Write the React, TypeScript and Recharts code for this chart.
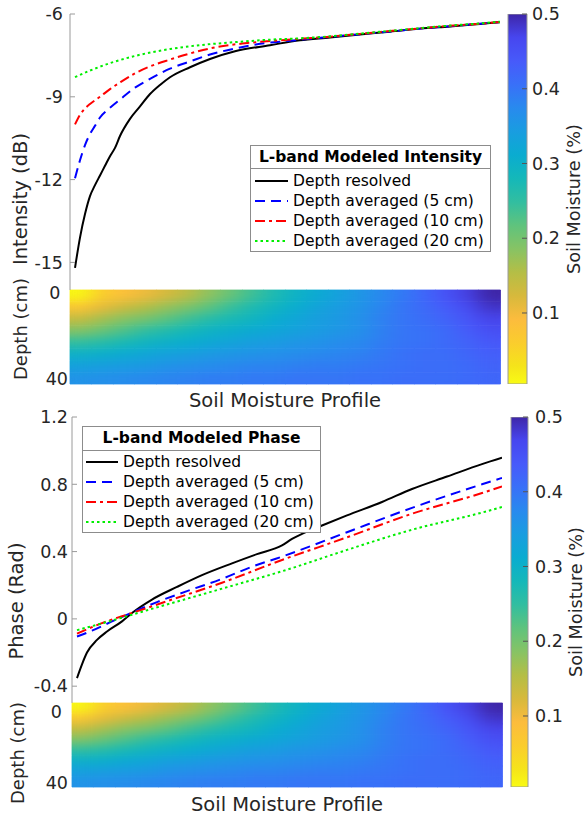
import React from 'react';
import { LineChart, Line, XAxis, YAxis, BarChart, Bar, Cell, Legend } from 'recharts';

const FONT = '"DejaVu Sans", Verdana, sans-serif';
const TEXT = '#262626';
const BOX = '#9a9a9a';

// ---------- data ----------
const seriesNames = ['Depth resolved', 'Depth averaged (5 cm)', 'Depth averaged (10 cm)', 'Depth averaged (20 cm)'];
const profileMax = 86;

// L-band intensity (dB) vs soil-moisture-profile index
const intResolvedIdx = [1, 2, 3, 4, 5, 6, 7, 8, 9, 10, 12, 14, 16, 18, 20, 24, 28, 33, 40, 46, 52, 58, 64, 70, 76, 82, 86];
const intResolvedDb = [-15.2, -14.1, -13.25, -12.6, -12.2, -11.85, -11.5, -11.15, -10.85, -10.42, -9.8, -9.35, -8.9, -8.57, -8.29, -7.93, -7.63, -7.35, -7.13, -6.95, -6.85, -6.74, -6.64, -6.53, -6.45, -6.36, -6.3];
const int5Idx = [1, 2, 3, 4, 5, 6, 8, 10, 13, 16, 20, 24, 28, 33, 38, 44, 52, 58, 64, 70, 76, 82, 86];
const int5Db = [-11.95, -11.3, -10.75, -10.35, -10.05, -9.75, -9.4, -9.1, -8.67, -8.35, -7.98, -7.72, -7.47, -7.25, -7.08, -6.97, -6.83, -6.73, -6.63, -6.53, -6.44, -6.35, -6.29];
const int10Idx = [1, 2, 3, 4, 6, 8, 10, 13, 16, 20, 24, 29, 35, 42, 52, 58, 64, 70, 76, 82, 86];
const int10Db = [-10.0, -9.65, -9.42, -9.26, -9.0, -8.72, -8.48, -8.15, -7.9, -7.65, -7.43, -7.21, -7.06, -6.95, -6.82, -6.72, -6.62, -6.52, -6.43, -6.35, -6.29];
const int20Idx = [1, 4, 8, 13, 20, 27, 33, 40, 46, 52, 58, 64, 70, 76, 82, 86];
const int20Db = [-8.29, -8.05, -7.78, -7.52, -7.27, -7.11, -7.02, -6.93, -6.88, -6.81, -6.71, -6.61, -6.51, -6.42, -6.34, -6.28];

// L-band phase (rad)
const phResolvedIdx = [1, 2, 3, 5, 7, 10, 12, 16, 21, 26, 32, 37, 42, 44, 46, 50, 55, 62, 68, 75, 82, 86];
const phResolvedRad = [-0.352, -0.27, -0.2, -0.125, -0.075, -0.015, 0.035, 0.115, 0.19, 0.26, 0.33, 0.385, 0.437, 0.475, 0.505, 0.555, 0.615, 0.695, 0.772, 0.846, 0.92, 0.958];
const ph5Idx = [1, 4, 8, 12, 17, 23, 30, 36, 42, 55, 68, 82, 86];
const ph5Rad = [-0.105, -0.07, -0.015, 0.038, 0.1, 0.165, 0.238, 0.31, 0.37, 0.515, 0.66, 0.8, 0.838];
const ph10Idx = [1, 6, 12, 20, 30, 42, 55, 68, 82, 86];
const ph10Rad = [-0.088, -0.025, 0.035, 0.115, 0.215, 0.35, 0.485, 0.625, 0.748, 0.787];
const ph20Idx = [1, 8, 12, 23, 33, 42, 55, 68, 82, 86];
const ph20Rad = [-0.067, -0.01, 0.025, 0.12, 0.205, 0.283, 0.41, 0.53, 0.632, 0.665];

const intensityTicks = [-15, -12, -9, -6];
const phaseTicks = [-0.4, 0, 0.4, 0.8, 1.2];
const moistureTicks = [0.1, 0.2, 0.3, 0.4, 0.5];
const depthTicks = [0, 40];
const moistureMin = 0.005;
const moistureMax = 0.5;

// soil moisture profile (rows = depth layers 0-5, 5-10, ... 35-40 cm; columns = profile position)
const depthEdges = [0, 5, 10, 15, 20, 25, 30, 35, 40];
const soilMoisture = [
  [0.01, 0.06, 0.085, 0.105, 0.125, 0.15, 0.18, 0.21, 0.24, 0.27, 0.295, 0.315, 0.335, 0.355, 0.375, 0.395, 0.42, 0.45, 0.475, 0.5],
  [0.075, 0.11, 0.135, 0.155, 0.175, 0.195, 0.22, 0.245, 0.27, 0.29, 0.31, 0.33, 0.345, 0.36, 0.38, 0.4, 0.415, 0.435, 0.46, 0.485],
  [0.14, 0.165, 0.185, 0.2, 0.22, 0.24, 0.26, 0.275, 0.29, 0.31, 0.325, 0.34, 0.35, 0.365, 0.385, 0.4, 0.41, 0.425, 0.445, 0.47],
  [0.19, 0.21, 0.23, 0.25, 0.265, 0.28, 0.295, 0.305, 0.315, 0.325, 0.335, 0.345, 0.355, 0.365, 0.385, 0.4, 0.405, 0.415, 0.435, 0.455],
  [0.25, 0.26, 0.275, 0.29, 0.3, 0.31, 0.32, 0.33, 0.34, 0.345, 0.355, 0.36, 0.37, 0.375, 0.39, 0.4, 0.405, 0.415, 0.425, 0.44],
  [0.3, 0.305, 0.315, 0.325, 0.335, 0.34, 0.35, 0.355, 0.36, 0.365, 0.37, 0.375, 0.38, 0.385, 0.395, 0.405, 0.41, 0.41, 0.42, 0.43],
  [0.335, 0.34, 0.345, 0.35, 0.36, 0.365, 0.37, 0.375, 0.38, 0.38, 0.385, 0.39, 0.39, 0.395, 0.4, 0.405, 0.41, 0.41, 0.415, 0.425],
  [0.36, 0.365, 0.37, 0.375, 0.38, 0.385, 0.39, 0.39, 0.395, 0.395, 0.4, 0.4, 0.4, 0.405, 0.405, 0.41, 0.41, 0.41, 0.415, 0.42],
];

// ---------- styles ----------
const PARULA: [number, number, number, number][] = [
  [0.0, 62, 38, 168], [0.063, 71, 70, 239], [0.127, 71, 90, 250], [0.19, 57, 112, 248],
  [0.254, 40, 138, 238], [0.317, 25, 157, 224], [0.381, 10, 172, 208], [0.444, 20, 184, 185],
  [0.508, 50, 190, 160], [0.571, 95, 195, 125], [0.635, 135, 195, 100], [0.698, 180, 190, 70],
  [0.762, 215, 185, 60], [0.825, 252, 188, 61], [0.889, 250, 205, 45], [0.952, 245, 228, 26],
  [1.0, 249, 251, 20],
];
function parula(t: number): string {
  const tt = Math.max(0, Math.min(1, t));
  for (let i = 1; i < PARULA.length; i++) {
    const a = PARULA[i - 1], b = PARULA[i];
    if (tt <= b[0]) {
      const f = (tt - a[0]) / (b[0] - a[0]);
      const c = [1, 2, 3].map((k) => Math.round(a[k] + (b[k] - a[k]) * f));
      return `rgb(${c[0]},${c[1]},${c[2]})`;
    }
  }
  return 'rgb(249,251,20)';
}
const moistureColor = (v: number) => parula(1 - (v - moistureMin) / (moistureMax - moistureMin));

const lineStyles = [
  { stroke: '#000000', dash: undefined as string | undefined },
  { stroke: '#0000ff', dash: '10 6' },
  { stroke: '#ff0000', dash: '10 4 3 4' },
  { stroke: '#00ee00', dash: '2.5 3' },
];

const zip = (xs: number[], ys: number[]) => xs.map((x, i) => ({ idx: x, v: ys[i] }));
const intensitySeries = [zip(intResolvedIdx, intResolvedDb), zip(int5Idx, int5Db), zip(int10Idx, int10Db), zip(int20Idx, int20Db)];
const phaseSeries = [zip(phResolvedIdx, phResolvedRad), zip(ph5Idx, ph5Rad), zip(ph10Idx, ph10Rad), zip(ph20Idx, ph20Rad)];

const heatData = soilMoisture[0].map((_, c) => {
  const row: Record<string, number> = { col: c };
  for (let r = 0; r < depthEdges.length - 1; r++) row[`t${r}`] = depthEdges[r + 1] - depthEdges[r];
  return row;
});

// ---------- components ----------
function LegendBox(props: { title: string; width: number; titleH: number; padTop: number; sampleX: number; sampleW: number; textX: number }) {
  const { title, width, titleH, padTop, sampleX, sampleW, textX } = props;
  return (
    <div style={{ width, boxSizing: 'border-box', border: '1px solid #8c8c8c', background: '#fff', fontFamily: FONT, color: '#000' }}>
      <div style={{ height: titleH, lineHeight: `${titleH}px`, textAlign: 'center', fontWeight: 'bold', fontSize: 15.5, borderBottom: '1px solid #8c8c8c', whiteSpace: 'nowrap' }}>{title}</div>
      <div style={{ paddingTop: padTop }}>
        {seriesNames.map((n, i) => (
          <div key={n} style={{ height: 20, position: 'relative' }}>
            <svg width={sampleW + 2} height={20} style={{ position: 'absolute', left: sampleX, top: 0 }}>
              <line x1={0} y1={10} x2={sampleW} y2={10} stroke={lineStyles[i].stroke} strokeWidth={2} strokeDasharray={lineStyles[i].dash} />
            </svg>
            <span style={{ position: 'absolute', left: textX, top: 0, lineHeight: '20px', fontSize: 15.5, whiteSpace: 'nowrap' }}>{n}</span>
          </div>
        ))}
      </div>
    </div>
  );
}

const VLabel = ({ cx, cy, size, text }: { cx: number; cy: number; size: number; text: string }) => (
  <div style={{ position: 'absolute', left: cx, top: cy, transform: 'translate(-50%,-50%) rotate(-90deg)', fontSize: size, fontFamily: FONT, color: TEXT, whiteSpace: 'nowrap', lineHeight: 1 }}>{text}</div>
);
const HLabel = ({ cx, cy, size, text }: { cx: number; cy: number; size: number; text: string }) => (
  <div style={{ position: 'absolute', left: cx, top: cy, transform: 'translate(-50%,-50%)', fontSize: size, fontFamily: FONT, color: TEXT, whiteSpace: 'nowrap', lineHeight: 1 }}>{text}</div>
);

const makeDepthTick = (pos: Record<number, { x: number; dy: number }>) => (props: any) => {
  const { y, payload } = props;
  const p = pos[payload.value] || { x: 62, dy: 0 };
  return (
    <text x={p.x} y={y + p.dy} textAnchor="end" dominantBaseline="central" fontSize={17.5} fontFamily={FONT} fill={TEXT}>{payload.value}</text>
  );
};

const tickStyle = { fill: TEXT, fontSize: 17.5, fontFamily: FONT };

function LinePanel(props: { top: number; height: number; marginTop: number; marginRight: number; axisW: number; domain: [number, number]; ticks: number[]; tickMargin: number; series: { idx: number; v: number }[][]; legend: React.ReactNode; legendLeft: number; legendTop: number; legendW: number }) {
  const p = props;
  return (
    <div style={{ position: 'absolute', left: 0, top: p.top }}>
      <LineChart width={587} height={p.height} margin={{ top: p.marginTop, right: p.marginRight, bottom: 1, left: 10 }}>
        <XAxis xAxisId="b" type="number" dataKey="idx" domain={[0, profileMax]} orientation="bottom" height={0} tick={false} tickLine={false} axisLine={{ stroke: BOX }} allowDataOverflow />
        <XAxis xAxisId="t" type="number" dataKey="idx" domain={[0, profileMax]} orientation="top" height={0} tick={false} tickLine={false} axisLine={{ stroke: BOX }} allowDataOverflow />
        <YAxis yAxisId="l" type="number" domain={p.domain} ticks={p.ticks} width={p.axisW} tickSize={-5} tickMargin={p.tickMargin} tick={tickStyle} axisLine={{ stroke: BOX }} tickLine={{ stroke: BOX }} allowDataOverflow interval={0} />
        <YAxis yAxisId="r" orientation="right" type="number" domain={p.domain} ticks={p.ticks} width={0} tickSize={-5} tick={false} axisLine={{ stroke: BOX }} tickLine={{ stroke: BOX }} allowDataOverflow interval={0} />
        {p.series.map((d, i) => (
          <Line key={i} xAxisId="b" yAxisId="l" data={d} dataKey="v" name={seriesNames[i]} type="monotone" stroke={lineStyles[i].stroke} strokeWidth={2} strokeDasharray={lineStyles[i].dash} dot={false} activeDot={false} isAnimationActive={false} />
        ))}
        <Legend layout="horizontal" verticalAlign="middle" align="center" width={p.legendW} wrapperStyle={{ left: p.legendLeft, top: p.legendTop, width: p.legendW, margin: 0 }} content={() => p.legend} />
      </LineChart>
    </div>
  );
}

function HeatPanel(props: { top: number; height: number; marginRight: number; plotLeft: number; axisW: number; tickPos: Record<number, { x: number; dy: number }> }) {
  const p = props;
  const margin = { top: 10, right: p.marginRight, bottom: 16, left: p.plotLeft };
  return (
    <>
      {/* cells, smoothed like an interpolated surface */}
      <div style={{ position: 'absolute', left: 0, top: p.top, filter: 'url(#heatSmooth)' }}>
        <BarChart width={587} height={p.height} data={heatData} margin={margin} barCategoryGap={0} barGap={0}>
          <XAxis dataKey="col" hide />
          <YAxis type="number" domain={[0, 40]} reversed hide />
          {soilMoisture.map((row, r) => (
            <Bar key={r} dataKey={`t${r}`} stackId="d" isAnimationActive={false}>
              {row.map((v, c) => (
                <Cell key={c} fill={moistureColor(v)} stroke={moistureColor(v)} strokeWidth={0.8} />
              ))}
            </Bar>
          ))}
        </BarChart>
      </div>
      {/* depth axis */}
      <div style={{ position: 'absolute', left: 0, top: p.top }}>
        <BarChart width={587} height={p.height} data={heatData} margin={{ ...margin, left: p.plotLeft - p.axisW }} barCategoryGap={0}>
          <XAxis dataKey="col" hide />
          <YAxis type="number" domain={[0, 40]} reversed ticks={depthTicks} width={p.axisW} axisLine={false} tickLine={false} tick={makeDepthTick(p.tickPos)} interval={0} />
          <Bar dataKey="t0" fill="#ffffff" fillOpacity={0} isAnimationActive={false} />
        </BarChart>
      </div>
    </>
  );
}

function ColorBar(props: { top: number; height: number; marginTop: number; marginLeft: number; axisW: number; tickMargin: number; id: string }) {
  const p = props;
  return (
    <div style={{ position: 'absolute', left: 500, top: p.top }}>
      <BarChart width={87} height={p.height} data={[{ k: 'cb', range: [moistureMin, moistureMax] }]} margin={{ top: p.marginTop, right: 0, bottom: 10, left: p.marginLeft }} barCategoryGap={0}>
        <defs>
          <linearGradient id={p.id} x1="0" y1="0" x2="0" y2="1">
            {PARULA.map((a) => (
              <stop key={a[0]} offset={a[0]} stopColor={`rgb(${a[1]},${a[2]},${a[3]})`} />
            ))}
          </linearGradient>
        </defs>
        <XAxis dataKey="k" hide />
        <YAxis orientation="right" type="number" domain={[moistureMin, moistureMax]} ticks={moistureTicks} width={p.axisW} tickSize={-5} tickMargin={p.tickMargin} tick={tickStyle} axisLine={false} tickLine={{ stroke: '#555' }} allowDataOverflow interval={0} />
        <Bar dataKey="range" fill={`url(#${p.id})`} stroke={BOX} strokeWidth={1} isAnimationActive={false} />
      </BarChart>
    </div>
  );
}

export default function App() {
  return (
    <div style={{ position: 'absolute', left: 0, top: 0, width: 587, height: 816, background: '#fff', overflow: 'hidden' }}>
      <svg width={0} height={0} style={{ position: 'absolute' }}>
        <defs>
          <filter id="heatSmooth" x="-5%" y="-5%" width="110%" height="110%" colorInterpolationFilters="sRGB">
            <feGaussianBlur in="SourceGraphic" stdDeviation="9 5" result="b" />
            <feComponentTransfer in="b" result="o">
              <feFuncA type="table" tableValues="0 1 1 1 1 1 1 1 1 1 1 1" />
            </feComponentTransfer>
            <feComposite in="o" in2="SourceAlpha" operator="in" />
          </filter>
        </defs>
      </svg>

      {/* top panel */}
      <HeatPanel top={280} height={120} marginRight={87} plotLeft={70} axisW={60} tickPos={{ 0: { x: 60.5, dy: 2.5 }, 40: { x: 68, dy: -5 } }} />
      <LinePanel top={0} height={291} marginTop={14} marginRight={87} axisW={60} domain={[-16, -6]} ticks={intensityTicks} tickMargin={12} series={intensitySeries}
        legendLeft={250} legendTop={145} legendW={241}
        legend={<LegendBox title="L-band Modeled Intensity" width={241} titleH={22} padTop={2} sampleX={4} sampleW={33} textX={42} />} />
      <ColorBar top={0} height={394} marginTop={14} marginLeft={8} axisW={60} tickMargin={10} id="parulaTop" />
      <VLabel cx={21} cy={199} size={19.5} text="Intensity (dB)" />
      <VLabel cx={21} cy={329} size={18} text="Depth (cm)" />
      <VLabel cx={575} cy={199} size={17.7} text="Soil Moisture (%)" />
      <HLabel cx={285} cy={401} size={19.5} text="Soil Moisture Profile" />

      {/* bottom panel */}
      <HeatPanel top={693} height={110} marginRight={85} plotLeft={72} axisW={62} tickPos={{ 0: { x: 62, dy: 9 }, 40: { x: 68, dy: -4 } }} />
      <LinePanel top={400} height={304} marginTop={17} marginRight={85} axisW={62} domain={[-0.5, 1.2]} ticks={phaseTicks} tickMargin={9} series={phaseSeries}
        legendLeft={82} legendTop={26} legendW={239}
        legend={<LegendBox title="L-band Modeled Phase" width={239} titleH={23} padTop={1} sampleX={3} sampleW={32} textX={40} />} />
      <ColorBar top={400} height={397} marginTop={17} marginLeft={11} axisW={59} tickMargin={12} id="parulaBottom" />
      <VLabel cx={17} cy={601} size={19.5} text="Phase (Rad)" />
      <VLabel cx={17.5} cy={753} size={18} text="Depth (cm)" />
      <VLabel cx={577} cy={602} size={17.7} text="Soil Moisture (%)" />
      <HLabel cx={287} cy={805} size={19.5} text="Soil Moisture Profile" />
    </div>
  );
}
